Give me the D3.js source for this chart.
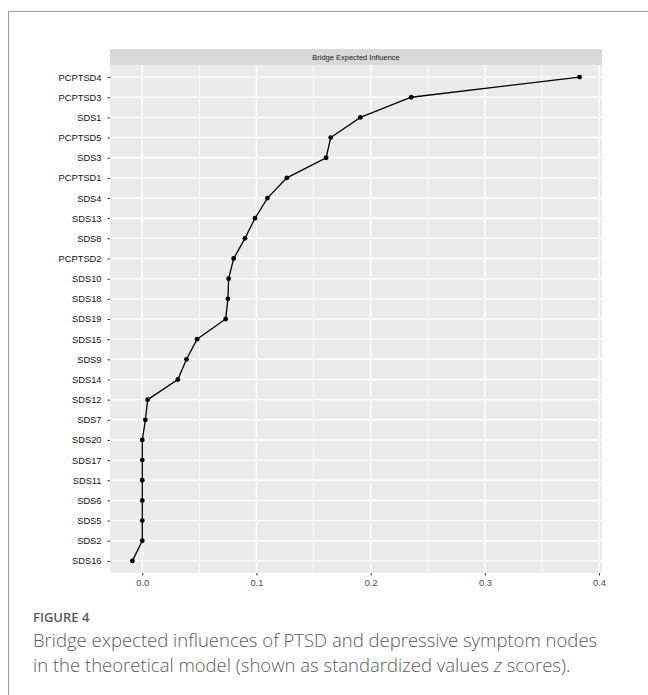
<!DOCTYPE html>
<html>
<head>
<meta charset="utf-8">
<script src="https://cdn.jsdelivr.net/npm/d3@7"></script>
<style>
  body { margin: 0; background: #fff; }
  svg { display: block; }
</style>
</head>
<body>
<div id="chart"></div>
<script>
// nodes listed top to bottom, as drawn
let nodes = ['PCPTSD4', 'PCPTSD3', 'SDS1', 'PCPTSD5', 'SDS3', 'PCPTSD1', 'SDS4', 'SDS13',
  'SDS8', 'PCPTSD2', 'SDS10', 'SDS18', 'SDS19', 'SDS15', 'SDS9', 'SDS14', 'SDS12',
  'SDS7', 'SDS20', 'SDS17', 'SDS11', 'SDS6', 'SDS5', 'SDS2', 'SDS16']
let values = [0.383, 0.2355, 0.191, 0.165, 0.161, 0.1266, 0.1096, 0.0987,
  0.0899, 0.080, 0.0756, 0.0750, 0.073, 0.048, 0.0387, 0.0311, 0.0047,
  0.0027, 0.0, 0.0, 0.0, 0.0, 0.0, 0.0, -0.0087]
let xTicks = [0, 0.1, 0.2, 0.3, 0.4]
let xMinor = [0.05, 0.15, 0.25, 0.35]
let stripTitle = 'Bridge Expected Influence'
let figLabel = 'FIGURE 4'
let captionLines = [
  'Bridge expected influences of PTSD and depressive symptom nodes',
  'in the theoretical model (shown as standardized values ',
]

let W = 648, H = 695
let panel = { left: 110, right: 602, top: 65, bottom: 573 }

let svg = d3.select('#chart').append('svg')
  .attr('width', W).attr('height', H)

// figure frame
svg.append('path')
  .attr('d', `M8.5,${H + 5}V11.5H${W + 5}`)
  .attr('fill', 'none')
  .attr('stroke', '#9a9a9a')
  .attr('stroke-width', 1)

let data = nodes.map((n, i) => ({ node: n, value: values[i] }))

// ggplot style 5% expansion
let ext = d3.extent(values)
let pad = (ext[1] - ext[0]) * 0.05
let x = d3.scaleLinear()
  .domain([ext[0] - pad, ext[1] + pad])
  .range([panel.left, panel.right])

let y = d3.scalePoint()
  .domain(nodes)
  .range([panel.top, panel.bottom])
  .padding(0.6)

// strip
svg.append('rect')
  .attr('x', panel.left).attr('y', 49)
  .attr('width', panel.right - panel.left).attr('height', panel.top - 49)
  .attr('fill', '#d9d9d9')
svg.append('text')
  .text(stripTitle)
  .attr('x', (panel.left + panel.right) / 2)
  .attr('y', 57)
  .attr('text-anchor', 'middle')
  .attr('dominant-baseline', 'central')
  .attr('font-family', 'Liberation Sans, Arial, sans-serif')
  .attr('font-size', 7.5)
  .attr('fill', '#1a1a1a')

// panel background
svg.append('rect')
  .attr('x', panel.left).attr('y', panel.top)
  .attr('width', panel.right - panel.left).attr('height', panel.bottom - panel.top)
  .attr('fill', '#ebebeb')

let grid = svg.append('g')
grid.selectAll('.minor')
  .data(xMinor)
  .enter().append('line')
  .attr('x1', d => x(d)).attr('x2', d => x(d))
  .attr('y1', panel.top).attr('y2', panel.bottom)
  .attr('stroke', '#fff').attr('stroke-width', 0.8)
grid.selectAll('.vmajor')
  .data(xTicks)
  .enter().append('line')
  .attr('x1', d => x(d)).attr('x2', d => x(d))
  .attr('y1', panel.top).attr('y2', panel.bottom)
  .attr('stroke', '#fff').attr('stroke-width', 1.4)
grid.selectAll('.hmajor')
  .data(nodes)
  .enter().append('line')
  .attr('x1', panel.left).attr('x2', panel.right)
  .attr('y1', d => y(d)).attr('y2', d => y(d))
  .attr('stroke', '#fff').attr('stroke-width', 1.4)

// axes
let yAxis = svg.append('g')
  .attr('transform', `translate(${panel.left},0)`)
  .call(d3.axisLeft(y).tickSize(2.5).tickPadding(6))
let xAxis = svg.append('g')
  .attr('transform', `translate(0,${panel.bottom})`)
  .call(d3.axisBottom(x).tickValues(xTicks).tickFormat(d3.format('.1f')).tickSize(2.5).tickPadding(4))

;[yAxis, xAxis].forEach(a => {
  a.select('.domain').remove()
  a.selectAll('.tick line').attr('stroke', '#333').attr('stroke-width', 1)
  a.selectAll('.tick text')
    .attr('font-family', 'Liberation Sans, Arial, sans-serif')
    .attr('font-size', 9.3)
})
yAxis.selectAll('.tick text').attr('fill', '#111')
xAxis.selectAll('.tick text').attr('fill', '#4d4d4d')

// line + points
let line = d3.line().x(d => x(d.value)).y(d => y(d.node))
svg.append('path')
  .datum(data)
  .attr('d', line)
  .attr('fill', 'none')
  .attr('stroke', '#000')
  .attr('stroke-width', 1.3)

svg.selectAll('.pt')
  .data(data)
  .enter().append('circle')
  .attr('class', 'pt')
  .attr('cx', d => x(d.value))
  .attr('cy', d => y(d.node))
  .attr('r', 2.4)
  .attr('fill', '#000')

// caption
svg.append('text')
  .text(figLabel)
  .attr('x', 33).attr('y', 622)
  .attr('font-family', 'Open Sans, sans-serif')
  .attr('font-size', 13)
  .attr('font-weight', 600)
  .attr('fill', '#5a5a5a')

let cap = svg.append('g')
  .attr('font-family', 'Open Sans, sans-serif')
  .attr('font-size', 18.5)
  .attr('font-weight', 300)
  .attr('fill', '#5a5a5a')
cap.append('text').attr('x', 33).attr('y', 647).text(captionLines[0])
let l2 = cap.append('text').attr('x', 33).attr('y', 672)
l2.append('tspan').text(captionLines[1])
l2.append('tspan').attr('font-style', 'italic').text('z')
l2.append('tspan').text(' scores).')
</script>
</body>
</html>
